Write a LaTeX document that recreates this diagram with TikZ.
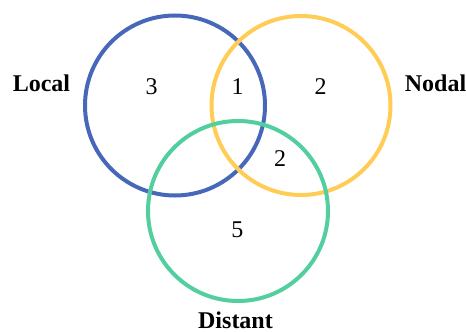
\documentclass[tikz,border=0pt]{standalone}
\usepackage{fontspec}
\setmainfont{Liberation Serif}
\definecolor{cblue}{HTML}{4767B9}
\definecolor{cyellow}{HTML}{FFCD55}
\definecolor{cgreen}{HTML}{52CE9F}
\begin{document}
\begin{tikzpicture}[x=1pt,y=-1pt,
  ring/.style={line width=4pt},
  lbl/.style={anchor=base,inner sep=0pt,font=\fontsize{24}{28}\selectfont\bfseries},
  num/.style={anchor=base,inner sep=0pt,font=\fontsize{24}{28}\selectfont}]
\useasboundingbox (0,0) rectangle (466,332);
\draw[ring,cblue] (175,105.5) circle[radius=90];
\draw[ring,cyellow] (301,105.5) circle[radius=89.5];
\draw[ring,cgreen] (238,211) circle[radius=90];
\node[lbl] (local) at (41.5,91) {Local};
\node[lbl] (nodal) at (435.5,91) {Nodal};
\node[lbl] (distant) at (235.5,328) {Distant};
\node[num] (n3) at (151.7,94) {3};
\node[num] (n1) at (237.5,94) {1};
\node[num] (n2) at (320.7,94) {2};
\node[num] (n2b) at (280,166) {2};
\node[num] (n5) at (237.3,237.5) {5};
\end{tikzpicture}
\end{document}
